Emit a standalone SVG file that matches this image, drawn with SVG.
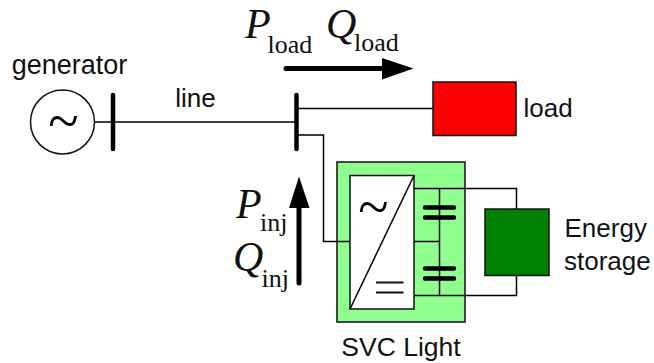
<svg xmlns="http://www.w3.org/2000/svg" width="654" height="363" viewBox="0 0 654 363">
<style>
.w{fill:none;stroke:#000;stroke-width:1.5}
.box{stroke:#111;stroke-width:1.5}
.bus{fill:none;stroke:#000;stroke-width:4.5;stroke-linecap:round}
.sans{font-family:"Liberation Sans",Arial,sans-serif;font-size:26px;fill:#111}
.it{font-family:"Liberation Serif","Times New Roman",serif;font-size:42px;font-style:italic;fill:#111}
.sub{font-family:"Liberation Serif","Times New Roman",serif;font-size:26px;fill:#111}
.tl{font-family:"Liberation Serif","Times New Roman",serif;font-size:56px;fill:#000}
</style>
<rect width="654" height="363" fill="#fff"/>
<g id="connectors">
<path class="w" d="M95 122H297"/>
<path class="w" d="M297 108.500H433"/>
<path class="w" d="M297 135H323.500V241.500H350"/>
<path class="w" d="M414 188.500H516.500V209"/>
<path class="w" d="M414 295.500H516.500V275"/>
<path class="w" d="M439.500 188.500V295.500M414 241.500H439.500"/>
</g>
<g id="generator">
<circle class="box" cx="62.500" cy="122" r="32" fill="#fff"/>
<text class="tl" x="63.500" y="140" text-anchor="middle">~</text>
<text class="sans" x="69.500" y="74" text-anchor="middle" style="font-size:27px">generator</text>
</g>
<g id="bus1"><path class="bus" d="M113 95V149"/></g>
<g id="bus2"><path class="bus" d="M296.500 95V149"/></g>
<g id="line-label"><text class="sans" x="195.500" y="106.500" text-anchor="middle">line</text></g>
<g id="load">
<rect class="box" x="433" y="82" width="83" height="53.500" fill="#f00"/>
<text class="sans" x="523.500" y="116.500">load</text>
</g>
<g id="svc">
<rect class="box" x="337" y="162" width="128" height="160" fill="#90ff90"/>
<rect class="box" x="350" y="175.500" width="64" height="133.500" fill="#fff"/>
<path class="w" d="M350 309L414 175.500"/>
<path class="w" d="M414 188.500H465M414 295.500H465M439.500 188.500V295.500M414 241.500H439.500M337 241.500H350"/>
<text class="tl" x="373.500" y="226" text-anchor="middle">~</text>
<path fill="none" stroke="#111" stroke-width="2.200" d="M376 282.500H403.500M376 292.500H403.500"/>
<path class="bus" d="M425 207.500H454M425 217.500H454M425 268.500H454M425 278.500H454"/>
<text class="sans" x="401" y="356" text-anchor="middle" style="font-size:26.500px">SVC Light</text>
</g>
<g id="storage">
<rect class="box" x="485" y="209" width="64" height="66.500" fill="#008000"/>
<text class="sans" x="564.500" y="237">Energy</text>
<text class="sans" x="564" y="270">storage</text>
</g>
<g id="flow-load">
<path d="M286 68.500H384" fill="none" stroke="#000" stroke-width="5" stroke-linecap="round"/>
<path d="M382 58L413.500 68.500L382 79.500Z" fill="#000"/>
<text class="it" x="245" y="38">P</text><text class="sub" x="267.500" y="53">load</text>
<text class="it" x="326" y="38">Q</text><text class="sub" x="354" y="51">load</text>
</g>
<g id="flow-inj">
<path d="M299 283V205" fill="none" stroke="#000" stroke-width="5" stroke-linecap="round"/>
<path d="M289 208L299 176.500L309.500 208Z" fill="#000"/>
<text class="it" x="236" y="218">P</text><text class="sub" x="260" y="231">inj</text>
<text class="it" x="233" y="271">Q</text><text class="sub" x="261.500" y="287">inj</text>
</g>
</svg>
